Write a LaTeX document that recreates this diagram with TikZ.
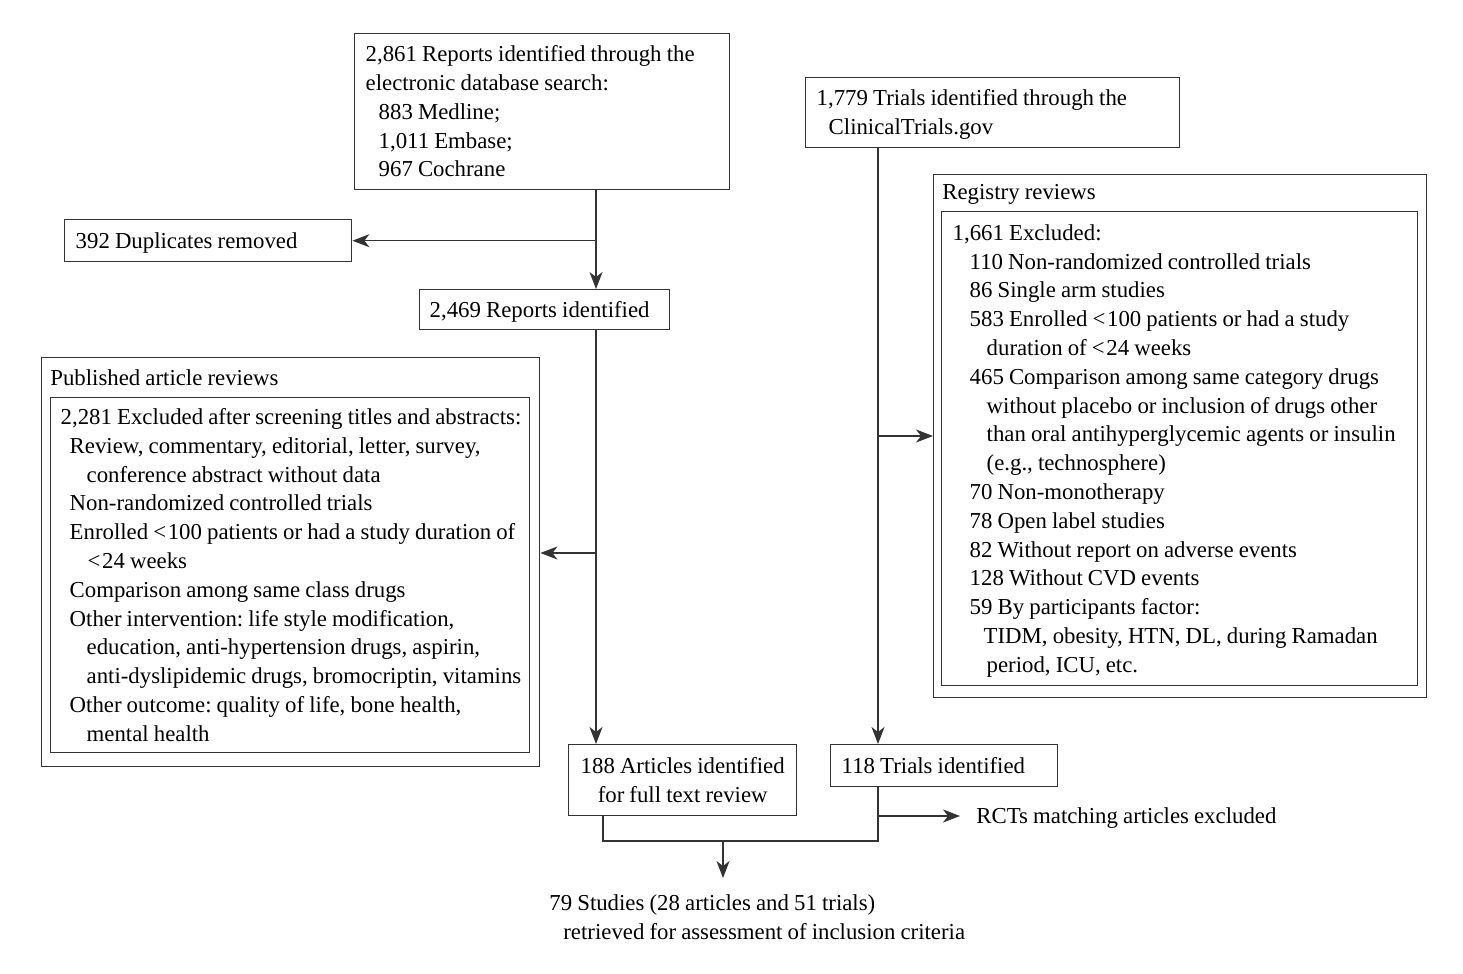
\documentclass[tikz,border=0pt]{standalone}
\usepackage{fontspec}
\setmainfont[WordSpace=0.9]{Liberation Serif}
\usetikzlibrary{arrows.meta,positioning}

% one unbreakable line per row, natural word spaces
\newcommand{\rows}[1]{\spaceskip=0pt\xspaceskip=0pt\begin{tabular}{@{}l@{}}\rule{0pt}{12pt}#1\end{tabular}}
\newcommand{\lt}{{<}\kern0.8pt}

\tikzset{
  txt/.style={font=\fontsize{11.4}{14.4}\selectfont\frenchspacing},
  box/.style={txt, draw=black!80, line width=0.7pt, anchor=north west, align=left, inner xsep=5.5pt, inner ysep=1pt},
  frame/.style={draw=black!80, line width=0.7pt, anchor=north west, inner sep=0pt},
  title/.style={txt, anchor=west, inner sep=0pt},
  link/.style={draw=black!80, line width=0.7pt},
  arr/.style={link, -{Stealth[length=8.5pt,width=6.5pt,inset=2.5pt]}}
}

\begin{document}
\begin{tikzpicture}[x=0.5pt,y=-0.5pt]
	\useasboundingbox (0,0) rectangle (1463,974);

	% left branch: database search
	\node[box, text width=176.5pt, minimum height=78pt] (srch) at (354,33) {\rows{2,861 Reports identified through the\\
		electronic database search:\\
		\hspace*{6.5pt}883 Medline;\\
		\hspace*{6.5pt}1,011 Embase;\\
		\hspace*{6.5pt}967 Cochrane}};
	\node[box, text width=132.5pt, minimum height=21pt] (dup) at (64,219) {\rows{392 Duplicates removed}};
	\node[box, text width=115pt, minimum height=20pt, inner xsep=5pt] (rep) at (419,289) {\rows{2,469 Reports identified}};

	\node[frame, minimum width=249pt, minimum height=204.5pt] (pubout) at (41,357) {};
	\node[title] (pubtitle) at (50,378) {Published article reviews};
	\node[box, text width=229.5pt, minimum height=177.5pt, inner xsep=5pt] (pubin) at (50,397) {\rows{2,281 Excluded after screening titles and abstracts:\\
		\hspace*{4.5pt}Review, commentary, editorial, letter, survey,\\
		\hspace*{13pt}conference abstract without data\\
		\hspace*{4.5pt}Non-randomized controlled trials\\
		\hspace*{4.5pt}Enrolled \lt100 patients or had a study duration of\\
		\hspace*{13.5pt}\lt24 weeks\\
		\hspace*{4.5pt}Comparison among same class drugs\\
		\hspace*{4.5pt}Other intervention: life style modification,\\
		\hspace*{13pt}education, anti-hypertension drugs, aspirin,\\
		\hspace*{13pt}anti-dyslipidemic drugs, bromocriptin, vitamins\\
		\hspace*{4.5pt}Other outcome: quality of life, bone health,\\
		\hspace*{13pt}mental health}};

	\node[box, text width=103pt, minimum height=35.5pt, align=center] (art) at (568,744) {\spaceskip=0pt\begin{tabular}{@{}c@{}}\rule{0pt}{12pt}188 Articles identified\\for full text review\end{tabular}};

	% right branch: registry search
	\node[box, text width=176pt, minimum height=35pt] (ctg) at (805,77) {\rows{1,779 Trials identified through the\\
		\hspace*{6pt}ClinicalTrials.gov}};

	\node[frame, minimum width=246.5pt, minimum height=261.5pt] (regout) at (933,174) {};
	\node[title] (regtitle) at (942,194) {Registry reviews};
	\node[box, text width=227pt, minimum height=237pt] (regin) at (941,211) {\rows{1,661 Excluded:\\
		\hspace*{8.5pt}110 Non-randomized controlled trials\\
		\hspace*{8.5pt}86 Single arm studies\\
		\hspace*{8.5pt}583 Enrolled \lt100 patients or had a study\\
		\hspace*{17pt}duration of \lt24 weeks\\
		\hspace*{8.5pt}465 Comparison among same category drugs\\
		\hspace*{17pt}without placebo or inclusion of drugs other\\
		\hspace*{17pt}than oral antihyperglycemic agents or insulin\\
		\hspace*{17pt}(e.g., technosphere)\\
		\hspace*{8.5pt}70 Non-monotherapy\\
		\hspace*{8.5pt}78 Open label studies\\
		\hspace*{8.5pt}82 Without report on adverse events\\
		\hspace*{8.5pt}128 Without CVD events\\
		\hspace*{8.5pt}59 By participants factor:\\
		\hspace*{15.5pt}TIDM, obesity, HTN, DL, during Ramadan\\
		\hspace*{17pt}period, ICU, etc.}};

	\node[box, text width=102.5pt, minimum height=21pt] (tri) at (830,744) {\rows{118 Trials identified}};
	\node[title] (rct) at (976,818) {RCTs matching articles excluded};

	% merged result
	\node[txt, anchor=north west, inner sep=0pt] (fin) at (549,886) {\rows{79 Studies (28 articles and 51 trials)\\
		\hspace*{7pt}retrieved for assessment of inclusion criteria}};

	% connectors
	\coordinate (spineL) at (596,0);
	\coordinate (spineR) at (878,0);
	\coordinate (artdown) at (603,0);
	\coordinate (mrg) at (723,841);
	\coordinate (brL) at (596,553);
	\coordinate (brR) at (878,436);
	\coordinate (brD) at (878,816);

	\draw[arr] (srch.south -| spineL) -- (rep.north -| spineL);
	\draw[arr] (spineL |- dup.east) -- (dup.east);
	\draw[arr] (rep.south -| spineL) -- (art.north -| spineL);
	\draw[arr] (brL) -- (brL -| pubout.east);

	\draw[arr] (ctg.south -| spineR) -- (tri.north -| spineR);
	\draw[arr] (brR) -- (brR -| regout.west);

	\draw[link] (art.south -| artdown) |- (mrg) -| (tri.south -| spineR);
	\draw[arr] (brD) -- ([xshift=-8pt]brD -| rct.west);
	\draw[arr] (mrg) -- ([yshift=4pt]mrg |- fin.north);
\end{tikzpicture}
\end{document}
